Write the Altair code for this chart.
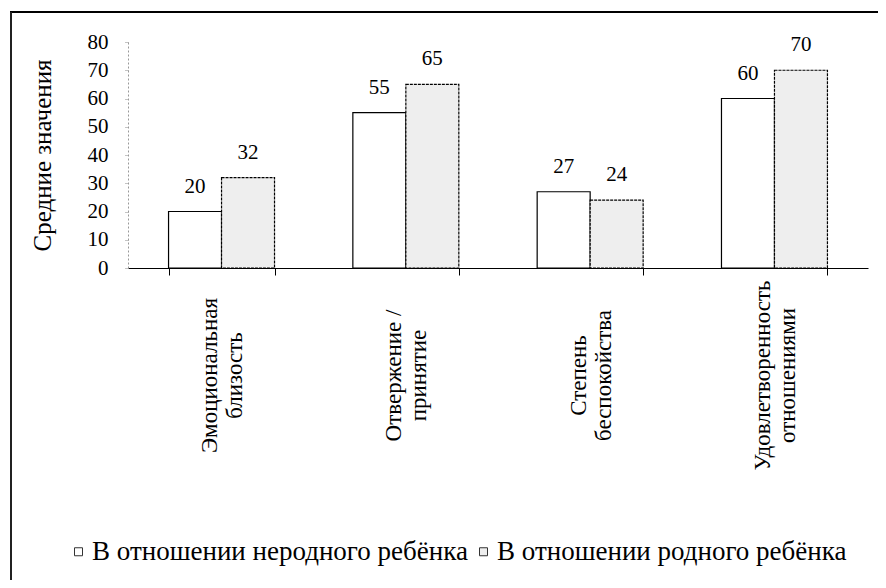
import altair as alt
import pandas as pd

categories = [
    "Эмоциональная\nблизость",
    "Отвержение /\nпринятие",
    "Степень\nбеспокойства",
    "Удовлетворенность\nотношениями",
]
series = ["В отношении неродного ребёнка", "В отношении родного ребёнка"]
nonnative_values = [20, 55, 27, 60]
native_values = [32, 65, 24, 70]
y_ticks = [0, 10, 20, 30, 40, 50, 60, 70, 80]
y_title = "Средние значения"

rows = []
for c, a, b in zip(categories, nonnative_values, native_values):
    rows.append({"category": c, "series": series[0], "value": a})
    rows.append({"category": c, "series": series[1], "value": b})
df = pd.DataFrame(rows)

SERIF = "Liberation Serif"

x_enc = alt.X(
    "category:N",
    sort=categories,
    title=None,
    scale=alt.Scale(paddingInner=0.425, paddingOuter=0.22),
    axis=alt.Axis(
        labelAngle=270,
        labelAlign="center",
        labelBaseline="middle",
        labelPadding=100,
        labelOffset=-12,
        labelFontSize=23,
        labelLineHeight=25,
        labelFont=SERIF,
        labelColor="black",
        labelExpr="split(datum.label, '\\n')",
        labelLimit=0,
        tickBand="extent",
        tickSize=7,
        tickColor="black",
        domainColor="black",
        domainWidth=1.2,
    ),
)
xoff = alt.XOffset("series:N", sort=series, scale=alt.Scale(paddingInner=0, paddingOuter=0))
y_enc = alt.Y(
    "value:Q",
    scale=alt.Scale(domain=[0, 80], nice=False),
    title=y_title,
    axis=alt.Axis(
        values=y_ticks,
        grid=False,
        labelFont=SERIF,
        labelFontSize=21,
        labelColor="black",
        labelPadding=16,
        tickSize=4,
        tickColor="#888",
        tickDash=[1, 1],
        domainColor="#999",
        domainDash=[2, 2],
        titleFont=SERIF,
        titleFontSize=25,
        titleFontWeight="normal",
        titleColor="black",
        titlePadding=32,
    ),
)

fill_enc = alt.Fill(
    "series:N",
    sort=series,
    scale=alt.Scale(domain=series, range=["#ffffff", "#eeeeee"]),
    legend=alt.Legend(
        title=None,
        orient="none",
        legendX=-63,
        legendY=496,
        direction="horizontal",
        symbolType="square",
        symbolSize=64,
        symbolStrokeColor="#333",
        symbolStrokeWidth=1,
        labelFont=SERIF,
        labelFontSize=27,
        labelColor="black",
        labelLimit=0,
        labelOffset=0,
        columnPadding=2,
    ),
)

bars_a = (
    alt.Chart(df)
    .transform_filter(alt.datum.series == series[0])
    .mark_bar(stroke="black", strokeWidth=1.2)
    .encode(x=x_enc, xOffset=xoff, y=y_enc, fill=fill_enc)
)
bars_b = (
    alt.Chart(df)
    .transform_filter(alt.datum.series == series[1])
    .mark_bar(stroke="black", strokeWidth=1.2, strokeDash=[3, 1])
    .encode(x=x_enc, xOffset=xoff, y=y_enc, fill=fill_enc)
)

labels = alt.Chart(df).mark_text(
    font=SERIF, fontSize=21, color="black", baseline="alphabetic", dy=-19
).encode(x=x_enc, xOffset=xoff, y=y_enc, text=alt.Text("value:Q"))

frame_top = alt.Chart(df).mark_rule(color="black", strokeWidth=2).encode(
    x=alt.value(-118), x2=alt.value(760), y=alt.value(-30)
)
frame_left = alt.Chart(df).mark_rule(color="#222", strokeWidth=1.2).encode(
    x=alt.value(-117), y=alt.value(-30), y2=alt.value(560)
)

chart = (
    alt.layer(bars_a, bars_b, labels, frame_top, frame_left)
    .properties(
        width=740,
        height=226,
        padding={"left": 120, "top": 34, "right": 10, "bottom": 312},
        autosize=alt.AutoSizeParams(type="none"),
        background="white",
    )
    .configure_view(stroke=None)
)

chart.save("out.html", embed_options={"renderer": "svg", "actions": False})
